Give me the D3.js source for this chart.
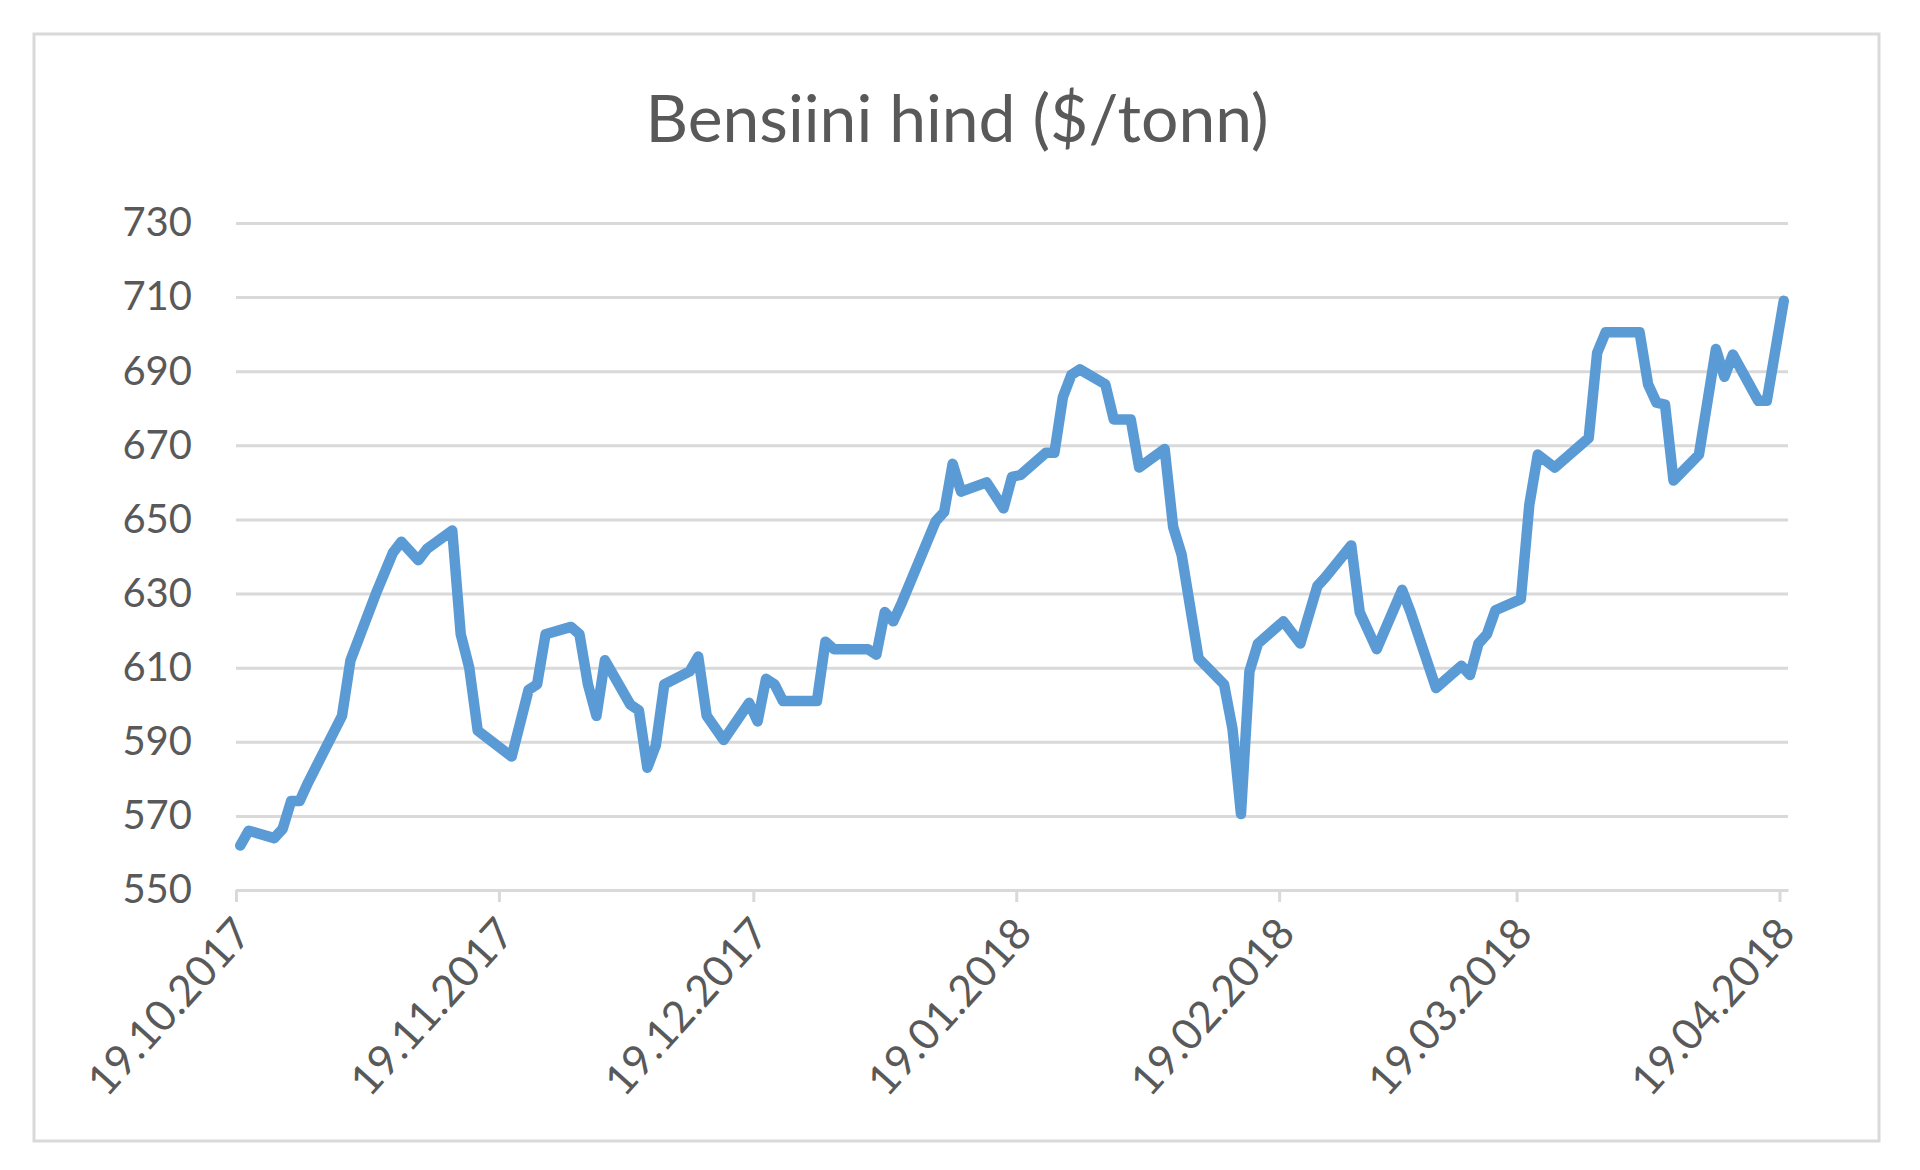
<!DOCTYPE html>
<html>
<head>
<meta charset="utf-8">
<script src="https://cdn.jsdelivr.net/npm/d3@7"></script>
<style>
  body { margin: 0; background: #fff; }
</style>
</head>
<body>
<div id="chart"></div>
<script>
const chartTitle = "Bensiini hind ($/tonn)";

const dates = [
  "2017-10-19", "2017-10-20", "2017-10-23", "2017-10-24", "2017-10-25", "2017-10-26", "2017-10-27",
  "2017-10-31", "2017-11-01", "2017-11-04", "2017-11-06", "2017-11-07", "2017-11-09", "2017-11-10",
  "2017-11-13", "2017-11-14", "2017-11-15", "2017-11-16", "2017-11-20", "2017-11-22", "2017-11-23",
  "2017-11-24", "2017-11-27", "2017-11-28", "2017-11-29", "2017-11-30", "2017-12-01", "2017-12-04",
  "2017-12-05", "2017-12-06", "2017-12-07", "2017-12-08", "2017-12-11", "2017-12-12", "2017-12-13",
  "2017-12-15", "2017-12-18", "2017-12-19", "2017-12-20", "2017-12-21", "2017-12-22", "2017-12-26",
  "2017-12-27", "2017-12-28", "2018-01-01", "2018-01-02", "2018-01-03", "2018-01-04", "2018-01-05",
  "2018-01-09", "2018-01-10", "2018-01-11", "2018-01-12", "2018-01-15", "2018-01-17", "2018-01-18",
  "2018-01-19", "2018-01-22", "2018-01-23", "2018-01-24", "2018-01-25", "2018-01-26", "2018-01-29",
  "2018-01-30", "2018-02-01", "2018-02-02", "2018-02-05", "2018-02-06", "2018-02-07", "2018-02-09",
  "2018-02-12", "2018-02-13", "2018-02-14", "2018-02-15", "2018-02-16", "2018-02-19", "2018-02-21",
  "2018-02-23", "2018-02-24", "2018-02-27", "2018-02-28", "2018-03-02", "2018-03-05", "2018-03-06",
  "2018-03-09", "2018-03-12", "2018-03-13", "2018-03-14", "2018-03-15", "2018-03-16", "2018-03-19",
  "2018-03-20", "2018-03-21", "2018-03-23", "2018-03-27", "2018-03-28", "2018-03-29", "2018-04-02",
  "2018-04-03", "2018-04-04", "2018-04-05", "2018-04-06", "2018-04-09", "2018-04-11", "2018-04-12",
  "2018-04-13", "2018-04-16", "2018-04-17", "2018-04-19"
];

const prices = [
  562, 566, 564, 566.5, 574, 574, 579,
  597, 612, 630, 641, 644, 639, 642,
  647, 619, 610, 593, 586, 604, 605.5,
  619, 621, 619, 605.5, 597, 612, 600,
  598.5, 583, 589, 605.5, 609, 613, 597,
  590.5, 600.5, 595.5, 607, 605.5, 601, 601,
  617, 615, 615, 613.5, 625, 622.5, 627.5,
  649.5, 652, 665, 657.5, 660, 653, 661.5,
  662, 668, 668, 683, 689, 690.5, 686.5,
  677, 677, 664, 669, 648, 640.5, 612.5,
  605.5, 593.5, 570.5, 609, 616.5, 622.5, 616.5,
  632, 634.5, 643, 625, 615, 631, 625,
  604.5, 610.5, 608, 616.5, 619, 625.5, 628.5,
  654, 667.5, 664, 672, 695, 700.5, 700.5,
  686.5, 681.5, 681, 660.5, 667.5, 696, 688.5,
  694.5, 682, 682, 709
];

const xTicks = ["2017-10-19", "2017-11-19", "2017-12-19", "2018-01-19", "2018-02-19", "2018-03-19", "2018-04-19"];
const yTicks = [550, 570, 590, 610, 630, 650, 670, 690, 710, 730];
const xDomain = ["2017-10-19", "2018-04-20"];
const yDomain = [550, 730];

const canvasWidth = 1920;
const canvasHeight = 1170;
const plot = { left: 236, right: 1788, top: 223, bottom: 890 };
const textColor = "#595959";
const gridColor = "#d9d9d9";
const font = "Lato, 'Open Sans', sans-serif";

const parseDate = d3.utcParse("%Y-%m-%d");
const formatDate = d3.utcFormat("%d.%m.%Y");

// points sit in the middle of their day, like an Excel date axis
const data = dates.map((d, i) => ({ date: d3.utcHour.offset(parseDate(d), 12), value: prices[i] }));

const svg = d3.select("#chart")
  .append("svg")
  .attr("width", canvasWidth)
  .attr("height", canvasHeight)
  .style("font-family", font);

// chart area border
svg.append("rect")
  .attr("x", 34)
  .attr("y", 34)
  .attr("width", 1845)
  .attr("height", 1107)
  .attr("fill", "#fff")
  .attr("stroke", gridColor)
  .attr("stroke-width", 3);

const xScale = d3.scaleUtc().domain(xDomain.map(parseDate)).range([plot.left, plot.right]);
const yScale = d3.scaleLinear().domain(yDomain).range([plot.bottom, plot.top]);

// title
svg.append("text")
  .attr("x", 957)
  .attr("y", 142)
  .attr("text-anchor", "middle")
  .attr("fill", textColor)
  .attr("font-size", 66)
  .text(chartTitle);

// horizontal gridlines + y labels
const yAxis = d3.axisLeft(yScale)
  .tickValues(yTicks)
  .tickSize(-(plot.right - plot.left))
  .tickPadding(44)
  .tickFormat(d3.format("d"));

svg.append("g")
  .attr("class", "y-axis")
  .attr("transform", `translate(${plot.left},0)`)
  .call(yAxis)
  .call(g => g.select(".domain").remove())
  .call(g => g.selectAll(".tick line").attr("stroke", gridColor).attr("stroke-width", 3))
  .call(g => g.selectAll(".tick text")
    .attr("fill", textColor)
    .attr("font-size", 40)
    .attr("font-family", font));

// x axis with rotated date labels
const xAxis = d3.axisBottom(xScale)
  .tickValues(xTicks.map(parseDate))
  .tickSize(12)
  .tickSizeOuter(0)
  .tickFormat(formatDate);

svg.append("g")
  .attr("class", "x-axis")
  .attr("transform", `translate(0,${plot.bottom})`)
  .call(xAxis)
  .call(g => g.select(".domain").attr("stroke", gridColor).attr("stroke-width", 3))
  .call(g => g.selectAll(".tick line").attr("stroke", gridColor).attr("stroke-width", 3))
  .call(g => g.selectAll(".tick text")
    .attr("fill", textColor)
    .attr("font-size", 43)
    .attr("font-family", font)
    .attr("text-anchor", "end")
    .attr("dominant-baseline", "central")
    .attr("dy", null)
    .attr("y", 0)
    .attr("transform", "translate(5,34) rotate(-48)"));

// price line
const line = d3.line()
  .x(d => xScale(d.date))
  .y(d => yScale(d.value));

svg.append("path")
  .datum(data)
  .attr("fill", "none")
  .attr("stroke", "#5b9bd5")
  .attr("stroke-width", 10.5)
  .attr("stroke-linejoin", "round")
  .attr("stroke-linecap", "round")
  .attr("d", line);
</script>
</body>
</html>
